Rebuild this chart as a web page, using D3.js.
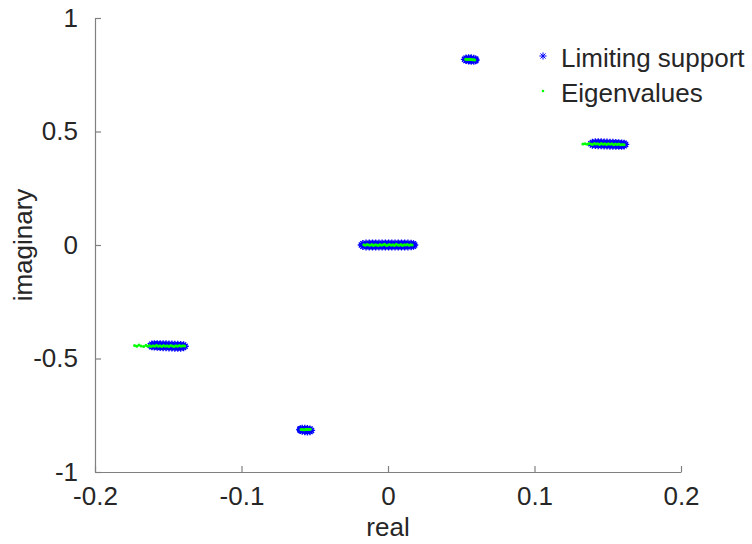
<!DOCTYPE html>
<html><head><meta charset="utf-8">
<script src="https://cdn.jsdelivr.net/npm/d3@7"></script>
<style>body{margin:0;background:#fff}svg{display:block}text{font-family:"Liberation Sans",Arial,sans-serif;fill:#262626}</style>
</head><body><div id="c"></div>
<script>
// ---- data ----
const xTicks = [-0.2, -0.1, 0, 0.1, 0.2];
const yTicks = [-1, -0.5, 0, 0.5, 1];
const xTickLabels = ["-0.2", "-0.1", "0", "0.1", "0.2"];
const yTickLabels = ["-1", "-0.5", "0", "0.5", "1"];
const legendLabels = ["Limiting support", "Eigenvalues"];

// limiting support (blue asterisks) – real and imaginary parts, per cluster (three rows each)
const supportCenterRe = [-0.0182,-0.0172,-0.0150,-0.0128,-0.0106,-0.0084,-0.0062,-0.0040,-0.0018,0.0004,0.0026,0.0048,0.0070,0.0092,0.0114,0.0136,0.0158,0.0174,0.0182,
                         -0.0172,-0.0150,-0.0128,-0.0106,-0.0084,-0.0062,-0.0040,-0.0018,0.0004,0.0026,0.0048,0.0070,0.0092,0.0114,0.0136,0.0158,0.0174,
                         -0.0161,-0.0139,-0.0117,-0.0095,-0.0073,-0.0051,-0.0029,-0.0007,0.0015,0.0037,0.0059,0.0081,0.0103,0.0125,0.0147,0.0167];
const supportCenterIm = [0.000,0.006,0.008,0.008,0.008,0.008,0.008,0.008,0.008,0.008,0.008,0.008,0.008,0.008,0.008,0.008,0.007,0.005,0.000,
                         -0.006,-0.008,-0.008,-0.008,-0.008,-0.008,-0.008,-0.008,-0.008,-0.008,-0.008,-0.008,-0.008,-0.008,-0.008,-0.007,-0.005,
                         0.000,0.000,0.000,0.000,0.000,0.000,0.000,0.000,0.000,0.000,0.000,0.000,0.000,0.000,0.000,0.000];
const supportRightRe = [0.1385,0.1395,0.1415,0.1435,0.1455,0.1475,0.1495,0.1515,0.1535,0.1555,0.1575,0.1595,0.1612,0.1622,
                        0.1395,0.1415,0.1435,0.1455,0.1475,0.1495,0.1515,0.1535,0.1555,0.1575,0.1595,0.1612,
                        0.1405,0.1425,0.1445,0.1465,0.1485,0.1505,0.1525,0.1545,0.1565,0.1585,0.1605];
const supportRightIm = [0.446,0.452,0.454,0.454,0.454,0.453,0.453,0.452,0.452,0.451,0.450,0.449,0.448,0.443,
                        0.440,0.439,0.438,0.438,0.437,0.437,0.436,0.436,0.436,0.435,0.435,0.437,
                        0.446,0.446,0.446,0.445,0.445,0.444,0.444,0.443,0.443,0.442,0.442];
const supportLeftRe = [-0.1385,-0.1395,-0.1415,-0.1435,-0.1455,-0.1475,-0.1495,-0.1515,-0.1535,-0.1555,-0.1575,-0.1595,-0.1612,-0.1622,
                       -0.1395,-0.1415,-0.1435,-0.1455,-0.1475,-0.1495,-0.1515,-0.1535,-0.1555,-0.1575,-0.1595,-0.1612,
                       -0.1405,-0.1425,-0.1445,-0.1465,-0.1485,-0.1505,-0.1525,-0.1545,-0.1565,-0.1585,-0.1605];
const supportLeftIm = [-0.446,-0.452,-0.454,-0.454,-0.454,-0.453,-0.453,-0.452,-0.452,-0.451,-0.450,-0.449,-0.448,-0.443,
                       -0.440,-0.439,-0.438,-0.438,-0.437,-0.437,-0.436,-0.436,-0.436,-0.435,-0.435,-0.437,
                       -0.446,-0.446,-0.446,-0.445,-0.445,-0.444,-0.444,-0.443,-0.443,-0.442,-0.442];
const supportTopRe = [0.0522,0.0532,0.0550,0.0568,0.0586,0.0598,0.0600,0.0532,0.0550,0.0568,0.0586,0.0598,0.0541,0.0559,0.0577];
const supportTopIm = [0.818,0.823,0.825,0.824,0.822,0.819,0.815,0.813,0.811,0.810,0.810,0.812,0.817,0.817,0.816];
const supportBottomRe = [-0.0522,-0.0532,-0.0550,-0.0568,-0.0586,-0.0598,-0.0602,-0.0532,-0.0550,-0.0568,-0.0586,-0.0598,-0.0541,-0.0559,-0.0577];
const supportBottomIm = [-0.817,-0.822,-0.823,-0.822,-0.820,-0.817,-0.813,-0.811,-0.809,-0.808,-0.808,-0.810,-0.815,-0.814,-0.813];

// eigenvalues (green dots)
const eigCenterRe = [-0.0165,-0.0154,-0.0143,-0.0132,-0.0121,-0.0110,-0.0099,-0.0088,-0.0077,-0.0066,-0.0055,-0.0044,-0.0033,-0.0022,-0.0011,0.0000,
                     0.0011,0.0022,0.0033,0.0044,0.0055,0.0066,0.0077,0.0088,0.0099,0.0110,0.0121,0.0132,0.0143,0.0154,0.0165];
const eigCenterIm = [0.001,-0.001,0.002,0.000,-0.001,0.002,-0.002,0.001,0.000,-0.002,0.002,-0.001,0.001,0.003,-0.002,0.000,
                     0.002,-0.001,0.001,-0.002,0.003,0.000,-0.001,0.002,-0.002,0.001,0.000,0.002,-0.001,0.001,0.000];
const eigRightRe = [0.1330,0.1345,0.1360,0.1372,0.1384,0.1396,0.1408,0.1420,0.1432,0.1444,0.1456,0.1468,0.1480,0.1492,0.1504,0.1516,
                    0.1528,0.1540,0.1552,0.1564,0.1576,0.1588,0.1600,0.1612];
const eigRightIm = [0.445,0.446,0.444,0.447,0.445,0.443,0.447,0.445,0.446,0.443,0.447,0.444,0.446,0.443,0.446,0.444,
                    0.446,0.442,0.445,0.443,0.445,0.442,0.443,0.442];
const eigLeftRe = [-0.1730,-0.1715,-0.1700,-0.1685,-0.1668,-0.1652,-0.1640,-0.1628,-0.1616,-0.1604,-0.1592,-0.1580,-0.1568,-0.1556,-0.1544,-0.1532,
                   -0.1520,-0.1508,-0.1496,-0.1484,-0.1472,-0.1460,-0.1448,-0.1436,-0.1424,-0.1412,-0.1400,-0.1388];
const eigLeftIm = [-0.443,-0.446,-0.441,-0.445,-0.447,-0.442,-0.446,-0.443,-0.447,-0.444,-0.446,-0.442,-0.446,-0.444,-0.447,-0.443,
                   -0.446,-0.444,-0.447,-0.443,-0.445,-0.447,-0.444,-0.446,-0.443,-0.446,-0.444,-0.445];
const eigTopRe = [0.0530,0.0538,0.0546,0.0554,0.0562,0.0570,0.0578,0.0586,0.0592];
const eigTopIm = [0.818,0.818,0.817,0.818,0.817,0.817,0.816,0.816,0.815];
const eigBottomRe = [-0.0594,-0.0586,-0.0578,-0.0570,-0.0562,-0.0554,-0.0546,-0.0538,-0.0530];
const eigBottomIm = [-0.813,-0.813,-0.814,-0.814,-0.813,-0.813,-0.812,-0.813,-0.812];

// ---- layout ----
const W = 752, H = 544;
const m = {left: 95, right: 71, top: 18, bottom: 72};
const svg = d3.select("#c").append("svg").attr("width", W).attr("height", H);
const x = d3.scaleLinear().domain([-0.2, 0.2]).range([m.left, W - m.right]);
const y = d3.scaleLinear().domain([-1, 1]).range([H - m.bottom, m.top]);

const zip = (re, im) => re.map((r, i) => [r, im[i]]);
const support = [].concat(
  zip(supportCenterRe, supportCenterIm), zip(supportRightRe, supportRightIm),
  zip(supportLeftRe, supportLeftIm), zip(supportTopRe, supportTopIm), zip(supportBottomRe, supportBottomIm));
const eig = [].concat(
  zip(eigCenterRe, eigCenterIm), zip(eigRightRe, eigRightIm), zip(eigLeftRe, eigLeftIm),
  zip(eigTopRe, eigTopIm), zip(eigBottomRe, eigBottomIm));

// axes
const axColor = "#808080";
const fs = 26;
const xAxis = svg.append("g").attr("transform", `translate(0,${H - m.bottom})`)
  .call(d3.axisBottom(x).tickValues(xTicks).tickFormat((d, i) => xTickLabels[i]).tickSizeInner(-6).tickSizeOuter(0).tickPadding(15));
const yAxis = svg.append("g").attr("transform", `translate(${m.left},0)`)
  .call(d3.axisLeft(y).tickValues(yTicks).tickFormat((d, i) => yTickLabels[i]).tickSizeInner(-6).tickSizeOuter(0).tickPadding(17));
[xAxis, yAxis].forEach(g => {
  g.select(".domain").attr("stroke", axColor).attr("stroke-width", 1.2);
  g.selectAll(".tick line").attr("stroke", axColor).attr("stroke-width", 1.2);
  g.selectAll(".tick text").attr("font-size", fs).attr("font-family", "Liberation Sans, Arial, sans-serif").attr("fill", "#262626");
});

svg.append("text").attr("x", x(0)).attr("y", 536).attr("text-anchor", "middle").attr("font-size", fs).text("real");
svg.append("text").attr("transform", `translate(32,${y(0)}) rotate(-90)`).attr("text-anchor", "middle").attr("font-size", fs).text("imaginary");

// asterisk marker
function asterisk(s) {
  const d = s * 0.707;
  return `M${-s},0L${s},0M0,${-s}L0,${s}M${-d},${-d}L${d},${d}M${-d},${d}L${d},${-d}`;
}
const blue = "#0000ff", green = "#00ff00";
svg.append("g").selectAll("path").data(support).join("path")
  .attr("transform", d => `translate(${x(d[0])},${y(d[1])})`)
  .attr("d", asterisk(3.6)).attr("stroke", blue).attr("stroke-width", 1.3).attr("fill", "none");
svg.append("g").selectAll("circle").data(eig).join("circle")
  .attr("cx", d => x(d[0])).attr("cy", d => y(d[1])).attr("r", 1.5).attr("fill", green);

// legend
const lg = svg.append("g");
lg.append("path").attr("transform", "translate(543,56)").attr("d", asterisk(3.6)).attr("stroke", blue).attr("stroke-width", 1).attr("fill", "none");
lg.append("circle").attr("cx", 543).attr("cy", 91).attr("r", 1.3).attr("fill", green);
lg.append("text").attr("x", 561).attr("y", 67).attr("font-size", fs).text(legendLabels[0]);
lg.append("text").attr("x", 561).attr("y", 102).attr("font-size", fs).text(legendLabels[1]);
</script></body></html>
